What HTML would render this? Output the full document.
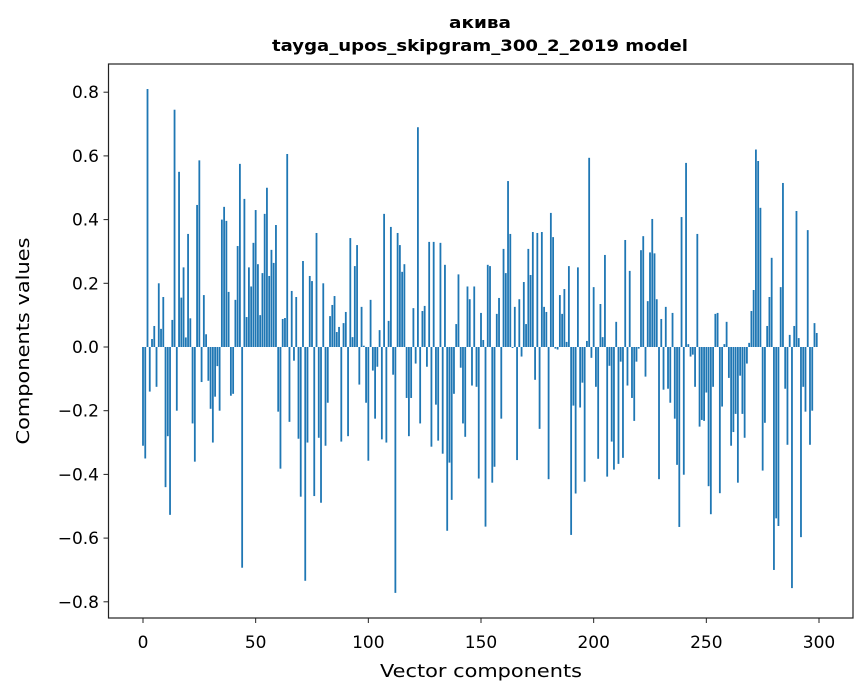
<!DOCTYPE html>
<html><head><meta charset="utf-8"><style>
html,body{margin:0;padding:0;background:#fff;}
svg{display:block;font-family:"DejaVu Sans","Liberation Sans",sans-serif;}
</style></head><body>
<svg id="chart" width="867" height="696" viewBox="0 0 867 696">
<rect width="867" height="696" fill="#fff"/>
<text x="480" y="28" text-anchor="middle" font-size="16" font-weight="bold" textLength="62" lengthAdjust="spacingAndGlyphs">акива</text>
<text x="480" y="51" text-anchor="middle" font-size="16" font-weight="bold" textLength="416" lengthAdjust="spacingAndGlyphs">tayga_upos_skipgram_300_2_2019 model</text>
<g id="bars"></g>
<g id="xticks"></g>
<g id="yticks"></g>
<rect x="108.5" y="64" width="744.5" height="554" fill="none" stroke="#222" stroke-width="1.2"/>
<text x="481" y="677" text-anchor="middle" font-size="18" textLength="202" lengthAdjust="spacingAndGlyphs">Vector components</text>
<text transform="translate(29,341) rotate(-90)" text-anchor="middle" font-size="18" textLength="207" lengthAdjust="spacingAndGlyphs">Components values</text>
</svg>
<script>
const values = [
-0.31,-0.35,0.81,-0.14,0.025,0.066,-0.125,0.2,0.057,0.157,
-0.44,-0.28,-0.527,0.085,0.745,-0.2,0.55,0.155,0.25,0.03,
0.355,0.09,-0.24,-0.36,0.446,0.586,-0.11,0.163,0.04,-0.106,
-0.194,-0.3,-0.156,-0.06,-0.2,0.4,0.44,0.396,0.173,-0.153,
-0.147,0.148,0.317,0.575,-0.693,0.465,0.094,0.25,0.19,0.327,
0.43,0.26,0.1,0.232,0.418,0.5,0.223,0.305,0.264,0.383,
-0.203,-0.382,0.088,0.091,0.606,-0.235,0.176,-0.043,0.157,-0.288,
-0.47,0.27,-0.734,-0.3,0.223,0.207,-0.468,0.358,-0.285,-0.489,
0.2,-0.31,-0.175,0.097,0.132,0.16,0.047,0.063,-0.297,0.075,
0.11,-0.28,0.342,0.031,0.254,0.32,-0.118,0.126,0.004,-0.175,
-0.357,0.148,-0.074,-0.225,-0.062,0.053,-0.29,0.418,-0.3,0.082,
0.377,-0.087,-0.772,0.358,0.32,0.236,0.26,-0.16,-0.28,-0.16,
0.122,-0.052,0.69,-0.24,0.113,0.129,-0.062,0.33,-0.313,0.33,
-0.181,-0.294,0.327,-0.335,0.258,-0.577,-0.363,-0.48,-0.147,0.072,
0.228,-0.065,-0.24,-0.282,0.19,0.15,-0.121,0.19,-0.125,-0.413,
0.107,0.022,-0.564,0.258,0.254,-0.426,-0.376,0.104,0.154,-0.225,
0.308,0.232,0.521,0.355,-0.003,0.126,-0.355,0.15,-0.03,0.204,
0.072,0.308,0.226,0.361,-0.103,0.358,-0.257,0.361,0.126,0.11,
-0.415,0.421,0.345,-0.005,-0.008,0.163,0.104,0.182,0.016,0.254,
-0.59,-0.184,-0.46,0.25,-0.19,-0.112,-0.423,0.019,0.594,-0.034,
0.188,-0.125,-0.351,0.135,0.031,0.289,-0.407,-0.059,-0.297,-0.385,
0.079,-0.367,-0.046,-0.348,0.336,-0.121,0.239,-0.16,-0.232,-0.046,
-0.005,0.304,0.348,-0.093,0.144,0.297,0.402,0.294,0.15,-0.415,
0.088,-0.134,0.126,-0.131,-0.175,0.107,-0.225,-0.37,-0.565,0.408,
-0.401,0.578,0.009,-0.03,-0.024,-0.125,0.355,-0.25,-0.229,-0.232,
-0.143,-0.437,-0.525,-0.125,0.104,0.107,-0.459,-0.187,0.009,0.079,
-0.097,-0.31,-0.267,-0.21,-0.426,-0.09,-0.21,-0.285,-0.052,0.013,
0.113,0.179,0.62,0.584,0.437,-0.388,-0.238,0.066,0.157,0.28,
-0.7,-0.538,-0.562,0.188,0.515,-0.131,-0.307,0.038,-0.757,0.066,
0.427,0.028,-0.597,-0.125,-0.203,0.367,-0.307,-0.2,0.075,0.044
];
const xTickValues = [0,50,100,150,200,250,300];
const yTickValues = [-0.8,-0.6,-0.4,-0.2,0,0.2,0.4,0.6,0.8];
const yTickLabels = ["\u22120.8","\u22120.6","\u22120.4","\u22120.2","0.0","0.2","0.4","0.6","0.8"];

const NS = "http://www.w3.org/2000/svg";
const xScale = v => 143 + v * (676 / 300);
const yScale = v => 347 - v * 318.5;
const barW = 0.8 * (676 / 300);

const barsG = document.getElementById('bars');
values.forEach((v, i) => {
  const r = document.createElementNS(NS, 'rect');
  const y0 = yScale(0), y1 = yScale(v);
  r.setAttribute('x', xScale(i) - barW / 2);
  r.setAttribute('y', Math.min(y0, y1));
  r.setAttribute('width', barW);
  r.setAttribute('height', Math.max(Math.abs(y1 - y0), 0.3));
  r.setAttribute('fill', '#1f77b4');
  
  
  barsG.appendChild(r);
});

const xg = document.getElementById('xticks');
xTickValues.forEach(t => {
  const x = xScale(t);
  const l = document.createElementNS(NS, 'line');
  l.setAttribute('x1', x); l.setAttribute('x2', x);
  l.setAttribute('y1', 618); l.setAttribute('y2', 623);
  l.setAttribute('stroke', '#222');
  
  
  xg.appendChild(l);
  const tx = document.createElementNS(NS, 'text');
  tx.setAttribute('x', x); tx.setAttribute('y', 648);
  tx.setAttribute('text-anchor', 'middle');
  tx.setAttribute('font-size', '17');
  tx.textContent = String(t);
  
  
  xg.appendChild(tx);
});

const yg = document.getElementById('yticks');
yTickValues.forEach((t, i) => {
  const y = yScale(t);
  const l = document.createElementNS(NS, 'line');
  l.setAttribute('x1', 103.5); l.setAttribute('x2', 108.5);
  l.setAttribute('y1', y); l.setAttribute('y2', y);
  l.setAttribute('stroke', '#222');
  
  
  yg.appendChild(l);
  const tx = document.createElementNS(NS, 'text');
  tx.setAttribute('x', 99); tx.setAttribute('y', y + 6);
  tx.setAttribute('text-anchor', 'end');
  tx.setAttribute('font-size', '17');
  tx.textContent = yTickLabels[i];
  
  
  yg.appendChild(tx);
});
</script>
</body></html>
